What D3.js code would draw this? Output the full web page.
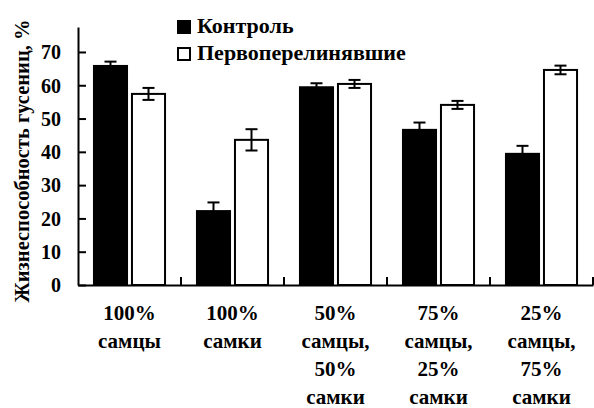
<!DOCTYPE html>
<html>
<head>
<meta charset="utf-8">
<script src="https://cdn.jsdelivr.net/npm/d3@7"></script>
<style>
  html, body { margin: 0; padding: 0; background: #fff; }
</style>
</head>
<body>
<script>
// Group labels (one entry per line of text)
const categories = ["100% самцы", "100% самки", "50% самцы, 50% самки", "75% самцы, 25% самки", "25% самцы, 75% самки"];
const categoryLines = [
  ["100%", "самцы"],
  ["100%", "самки"],
  ["50%", "самцы,", "50%", "самки"],
  ["75%", "самцы,", "25%", "самки"],
  ["25%", "самцы,", "75%", "самки"]
];
const seriesNames = ["Контроль", "Первоперелинявшие"];
const controlValues = [65.8, 22.2, 59.4, 46.6, 39.4];
const controlErrors = [1.3, 2.6, 1.2, 2.2, 2.4];
const moltedValues = [57.4, 43.6, 60.4, 54.1, 64.6];
const moltedErrors = [1.8, 3.2, 1.2, 1.2, 1.3];
const yTicks = [0, 10, 20, 30, 40, 50, 60, 70];
const yTitle = "Жизнеспособность гусениц, %";

const FONT = '"Liberation Serif", "Times New Roman", serif';
const W = 594, H = 408;
const margin = { left: 78, right: 1, top: 27, bottom: 123 };

const svg = d3.select("body").append("svg")
  .attr("width", W).attr("height", H);

const x = d3.scaleBand().domain(categories)
  .range([margin.left, W - margin.right]).padding(0);
const xs = d3.scaleBand().domain(seriesNames)
  .range([0, x.bandwidth()]).paddingInner(0.13).paddingOuter(0.42);
const y = d3.scaleLinear().domain([0, 77.5]).range([H - margin.bottom, margin.top]);

const rows = categories.map((c, i) => [
  { cat: c, s: seriesNames[0], v: controlValues[i], e: controlErrors[i], fill: "#000" },
  { cat: c, s: seriesNames[1], v: moltedValues[i], e: moltedErrors[i], fill: "#fff" }
]).flat();

// Bars
svg.append("g").selectAll("rect").data(rows).join("rect")
  .attr("x", d => x(d.cat) + xs(d.s))
  .attr("y", d => y(d.v))
  .attr("width", xs.bandwidth())
  .attr("height", d => y(0) - y(d.v))
  .attr("fill", d => d.fill)
  .attr("stroke", "#000")
  .attr("stroke-width", 2);

// Error bars
const eb = svg.append("g").attr("stroke", "#000").attr("stroke-width", 2);
rows.forEach(d => {
  const cx = x(d.cat) + xs(d.s) + xs.bandwidth() / 2;
  eb.append("line").attr("x1", cx).attr("x2", cx).attr("y1", y(d.v + d.e)).attr("y2", y(d.v - d.e));
  [d.v + d.e, d.v - d.e].forEach(t => {
    eb.append("line").attr("x1", cx - 6).attr("x2", cx + 6).attr("y1", y(t)).attr("y2", y(t));
  });
});

// Y axis with inward ticks
const yAxis = svg.append("g")
  .attr("transform", `translate(${margin.left},0)`)
  .call(d3.axisLeft(y).tickValues(yTicks).tickSize(-8).tickSizeOuter(0).tickPadding(17));
yAxis.selectAll("path, line").attr("stroke", "#000").attr("stroke-width", 2);
yAxis.selectAll("text")
  .style("font-family", FONT).style("font-weight", "bold").style("font-size", "20px")
  .attr("fill", "#000").attr("dy", "0.34em");

// X axis line and boundary ticks
const xAxis = svg.append("g")
  .attr("transform", `translate(0,${y(0)})`)
  .call(d3.axisBottom(x).tickSize(0).tickSizeOuter(0).tickFormat(""));
xAxis.select(".domain").attr("stroke", "#000").attr("stroke-width", 2);
xAxis.selectAll(".tick").remove();
const bounds = categories.map(c => x(c) + x.bandwidth());
svg.append("g").selectAll("line").data(bounds).join("line")
  .attr("x1", d => d).attr("x2", d => d)
  .attr("y1", y(0)).attr("y2", y(0) - 8)
  .attr("stroke", "#000").attr("stroke-width", 2);

// Category labels
const lab = svg.append("g").selectAll("text").data(categories).join("text")
  .attr("text-anchor", "middle")
  .style("font-family", FONT).style("font-weight", "bold").style("font-size", "21px");
lab.each(function (c, i) {
  const t = d3.select(this);
  categoryLines[i].forEach((ln, j) => {
    t.append("tspan")
      .attr("x", x(c) + x.bandwidth() / 2)
      .attr("y", 320 + j * 28)
      .text(ln);
  });
});

// Y title
svg.append("text")
  .attr("transform", `translate(29,161) rotate(-90)`)
  .attr("text-anchor", "middle")
  .style("font-family", FONT).style("font-weight", "bold").style("font-size", "20.5px")
  .text(yTitle);

// Legend
const legend = svg.append("g");
seriesNames.forEach((s, i) => {
  const g = legend.append("g").attr("transform", `translate(178,${21 + i * 27})`);
  g.append("rect").attr("width", 12).attr("height", 12)
    .attr("fill", i === 0 ? "#000" : "#fff").attr("stroke", "#000").attr("stroke-width", 2);
  g.append("text").attr("x", 19).attr("y", 12)
    .style("font-family", FONT).style("font-weight", "bold").style("font-size", "22px")
    .text(s);
});
</script>
</body>
</html>
